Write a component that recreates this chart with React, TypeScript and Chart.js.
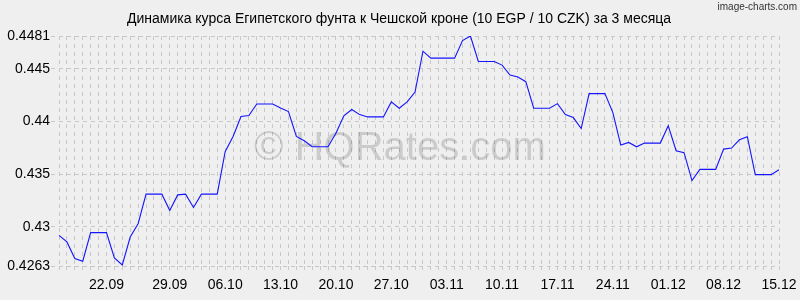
import React, { useEffect, useRef } from 'react';
import { Chart, registerables } from 'chart.js';

Chart.register(...registerables);

const TITLE = 'Динамика курса Египетского фунта к Чешской кроне (10 EGP / 10 CZK) за 3 месяца';
const CREDIT = 'image-charts.com';
const WATERMARK = '© HQRates.com';

const DATES = [
  '15.09', '16.09', '17.09', '18.09', '19.09', '20.09', '21.09', '22.09', '23.09', '24.09',
  '25.09', '26.09', '27.09', '28.09', '29.09', '30.09',
  '01.10', '02.10', '03.10', '04.10', '05.10', '06.10', '07.10', '08.10', '09.10', '10.10',
  '11.10', '12.10', '13.10', '14.10', '15.10', '16.10', '17.10', '18.10', '19.10', '20.10',
  '21.10', '22.10', '23.10', '24.10', '25.10', '26.10', '27.10', '28.10', '29.10', '30.10', '31.10',
  '01.11', '02.11', '03.11', '04.11', '05.11', '06.11', '07.11', '08.11', '09.11', '10.11',
  '11.11', '12.11', '13.11', '14.11', '15.11', '16.11', '17.11', '18.11', '19.11', '20.11',
  '21.11', '22.11', '23.11', '24.11', '25.11', '26.11', '27.11', '28.11', '29.11', '30.11',
  '01.12', '02.12', '03.12', '04.12', '05.12', '06.12', '07.12', '08.12', '09.12', '10.12',
  '11.12', '12.12', '13.12', '14.12', '15.12',
];

const RATES = [
  0.42921, 0.42858, 0.42701, 0.42675, 0.42946, 0.42946, 0.42946, 0.42707, 0.4264, 0.42905,
  0.43031, 0.43311, 0.43311, 0.43311, 0.43157, 0.43304, 0.43311, 0.43185, 0.43311, 0.43311,
  0.43311, 0.43713, 0.43858, 0.44047, 0.44056, 0.44166, 0.44166, 0.44166, 0.44128, 0.44094,
  0.43858, 0.43817, 0.4376, 0.4376, 0.4376, 0.43889, 0.44053, 0.44113, 0.44065, 0.44043,
  0.44043, 0.44043, 0.44185, 0.44125, 0.44185, 0.44278, 0.44666, 0.446, 0.446, 0.446,
  0.446, 0.44767, 0.4481, 0.44569, 0.44569, 0.44569, 0.44534, 0.4444, 0.44421, 0.44377,
  0.44125, 0.44125, 0.44125, 0.44169, 0.44065, 0.44037, 0.43933, 0.44264, 0.44264, 0.44264,
  0.44084, 0.43776, 0.43801, 0.4376, 0.43795, 0.43795, 0.43795, 0.43958, 0.43723, 0.43704,
  0.4344, 0.43546, 0.43546, 0.43546, 0.43738, 0.43748, 0.43826, 0.43855, 0.43496, 0.43496,
  0.43496, 0.43543,
];

const Y_MIN = 0.4263;
const Y_MAX = 0.4481;
const Y_TICKS = [0.4263, 0.43, 0.435, 0.44, 0.445, 0.4481];

const X_TICK_LABELS = ['22.09', '29.09', '06.10', '13.10', '20.10', '27.10', '03.11', '10.11', '17.11', '24.11', '01.12', '08.12', '15.12'];
const X_TICK_INDEX = [6, 14, 21, 28, 35, 42, 49, 56, 63, 70, 77, 84, 91];

const BG = '#efefef';
const GRID = '#c8c8c8';
const LINE = '#1414ff';
const FONT = '"Liberation Sans", Arial, sans-serif';

const decorPlugin = {
  id: 'decor',
  beforeDraw(chart: any) {
    const { ctx, width, height } = chart;
    ctx.save();
    ctx.fillStyle = BG;
    ctx.fillRect(0, 0, width, height);
    ctx.fillStyle = '#000';
    ctx.font = '14px ' + FONT;
    ctx.textAlign = 'center';
    ctx.textBaseline = 'alphabetic';
    ctx.fillText(TITLE, 399, 23);
    ctx.fillStyle = '#333';
    ctx.font = '10px ' + FONT;
    ctx.textAlign = 'right';
    ctx.fillText(CREDIT, 797, 10);
    ctx.restore();
  },
  beforeDatasetsDraw(chart: any) {
    const { ctx } = chart;
    ctx.save();
    ctx.fillStyle = 'rgba(0,0,0,0.15)';
    ctx.font = '40px ' + FONT;
    ctx.textAlign = 'center';
    ctx.textBaseline = 'alphabetic';
    ctx.fillText(WATERMARK, 400, 160);
    ctx.restore();
  },
};

export default function App() {
  const ref = useRef<HTMLCanvasElement | null>(null);

  useEffect(() => {
    document.body.style.margin = '0';
    const canvas = ref.current;
    if (!canvas) return;
    const chart = new Chart(canvas, {
      type: 'line',
      data: {
        labels: DATES,
        datasets: [
          {
            data: RATES,
            borderColor: LINE,
            borderWidth: 1.1,
            pointRadius: 0,
            tension: 0,
            fill: false,
          },
        ],
      },
      options: {
        animation: false,
        responsive: false,
        maintainAspectRatio: false,
        devicePixelRatio: 1,
        layout: { padding: { top: 36, right: 21, bottom: 0, left: 0 } },
        plugins: {
          legend: { display: false },
          tooltip: { enabled: false },
          title: { display: false },
        },
        scales: {
          x: {
            type: 'category',
            grid: {
              color: GRID,
              lineWidth: 1,
              tickLength: 8,
              tickColor: GRID,
              tickBorderDash: [4, 4],
              borderDash: [4, 4],
            },
            border: { display: false, dash: [4, 4] },
            ticks: {
              autoSkip: false,
              maxRotation: 0,
              minRotation: 0,
              padding: 3,
              color: '#000',
              font: { family: FONT, size: 14 },
              callback: (_v: any, i: number) => {
                const k = X_TICK_INDEX.indexOf(i);
                return k >= 0 ? X_TICK_LABELS[k] : '';
              },
            },
            afterFit: (s: any) => {
              s.height = 34;
            },
          },
          y: {
            type: 'linear',
            min: Y_MIN,
            max: Y_MAX,
            grid: {
              color: GRID,
              lineWidth: 1,
              tickLength: 8,
              tickColor: GRID,
              tickBorderDash: [4, 4],
              borderDash: [4, 4],
            },
            border: { display: false, dash: [4, 4] },
            afterBuildTicks: (s: any) => {
              s.ticks = Y_TICKS.map((v) => ({ value: v }));
            },
            ticks: {
              padding: 1,
              color: '#000',
              font: { family: FONT, size: 14 },
              callback: (v: any) => String(v),
            },
            afterFit: (s: any) => {
              s.width = 59;
            },
          },
        },
      },
      plugins: [decorPlugin],
    } as any);
    return () => chart.destroy();
  }, []);

  return (
    <div style={{ width: 800, height: 300 }}>
      <canvas ref={ref} width={800} height={300} style={{ display: 'block', width: 800, height: 300 }} />
    </div>
  );
}
